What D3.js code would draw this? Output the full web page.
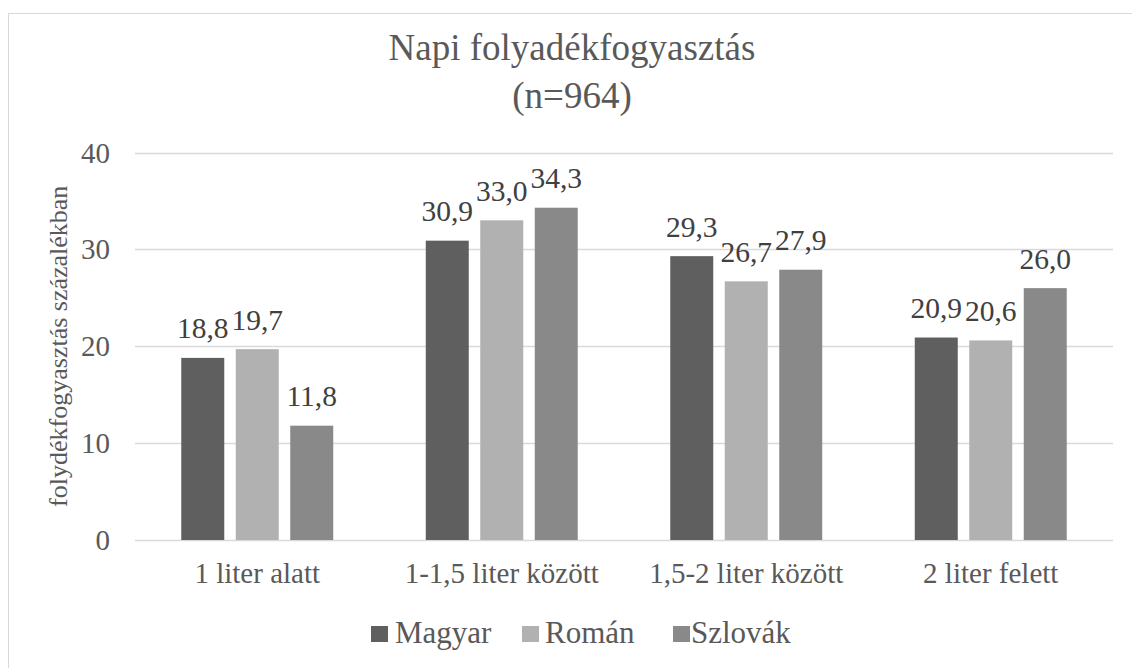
<!DOCTYPE html>
<html>
<head>
<meta charset="utf-8">
<script src="https://cdn.jsdelivr.net/npm/d3@7"></script>
<style>
  body { margin: 0; background: #fff; }
</style>
</head>
<body>
<div id="chart"></div>
<script>
const categories = ["1 liter alatt", "1-1,5 liter között", "1,5-2 liter között", "2 liter felett"];
const seriesNames = ["Magyar", "Román", "Szlovák"];
const magyar = [18.8, 30.9, 29.3, 20.9];
const roman = [19.7, 33.0, 26.7, 20.6];
const szlovak = [11.8, 34.3, 27.9, 26.0];
const yTicks = [0, 10, 20, 30, 40];
const colors = ["#5f5f5f", "#b1b1b1", "#898989"];

const width = 1132, height = 668;
const margin = {top: 152.5, right: 19, bottom: 128, left: 135};
const serif = "'Liberation Serif', 'Times New Roman', Tinos, 'DejaVu Serif', serif";

const svg = d3.select("#chart")
  .append("svg")
  .attr("width", width)
  .attr("height", height)
  .attr("font-family", serif)
  .style("font-family", serif);

// chart border (cropped at right and bottom in the original)
svg.append("rect")
  .attr("x", 8.5).attr("y", 13.5)
  .attr("width", 1140).attr("height", 700)
  .attr("fill", "none")
  .attr("stroke", "#d9d9d9");

const x0 = d3.scaleBand()
  .domain(categories)
  .range([margin.left, width - margin.right])
  .padding(0);

const x1 = d3.scaleBand()
  .domain(seriesNames)
  .range([0, x0.bandwidth()])
  .paddingInner(0.211)
  .paddingOuter(0.849);

const y = d3.scaleLinear()
  .domain([0, 40])
  .range([height - margin.bottom, margin.top]);

// gridlines
svg.append("g")
  .selectAll("line")
  .data(yTicks)
  .join("line")
  .attr("x1", margin.left)
  .attr("x2", width - margin.right)
  .attr("y1", d => Math.round(y(d)) + 0.5)
  .attr("y2", d => Math.round(y(d)) + 0.5)
  .attr("stroke", "#d9d9d9")
  .attr("stroke-width", 1.3);

// y tick labels
svg.append("g")
  .selectAll("text")
  .data(yTicks)
  .join("text")
  .attr("x", 110)
  .attr("y", d => y(d) + 10)
  .attr("text-anchor", "end")
  .attr("fill", "#595959")
  .style("font-size", "29px")
  .text(d => d);

const series = [magyar, roman, szlovak];
const rows = [];
categories.forEach((c, i) => {
  seriesNames.forEach((s, j) => rows.push({cat: c, name: s, value: series[j][i], k: j}));
});

svg.append("g")
  .selectAll("rect")
  .data(rows)
  .join("rect")
  .attr("x", d => x0(d.cat) + x1(d.name))
  .attr("y", d => y(d.value))
  .attr("width", x1.bandwidth())
  .attr("height", d => y(0) - y(d.value))
  .attr("fill", d => colors[d.k]);

// data labels
svg.append("g")
  .selectAll("text")
  .data(rows)
  .join("text")
  .attr("x", d => x0(d.cat) + x1(d.name) + x1.bandwidth() / 2)
  .attr("y", d => y(d.value) - 19.5)
  .attr("text-anchor", "middle")
  .attr("fill", "#404040")
  .style("font-size", "29.5px")
  .text(d => d.value.toFixed(1).replace(".", ","));

// x labels
svg.append("g")
  .selectAll("text")
  .data(categories)
  .join("text")
  .attr("x", d => x0(d) + x0.bandwidth() / 2)
  .attr("y", 583)
  .attr("text-anchor", "middle")
  .attr("fill", "#595959")
  .style("font-size", "29px")
  .text(d => d);

// title
const title = svg.append("text")
  .attr("x", 572)
  .attr("text-anchor", "middle")
  .attr("fill", "#595959")
  .style("font-size", "37px");
title.append("tspan").attr("x", 572).attr("y", 60).text("Napi folyadékfogyasztás");
title.append("tspan").attr("x", 572).attr("y", 108).text("(n=964)");

// y axis title
svg.append("text")
  .attr("transform", `translate(67,${(y(0) + y(40)) / 2}) rotate(-90)`)
  .attr("text-anchor", "middle")
  .attr("fill", "#595959")
  .style("font-size", "26px")
  .text("folydékfogyasztás százalékban");

// legend
const legendX = [371, 522, 673];
const legend = svg.append("g")
  .selectAll("g")
  .data(seriesNames)
  .join("g")
  .attr("transform", (d, i) => `translate(${legendX[i]},626)`);
legend.append("rect")
  .attr("width", 17).attr("height", 16)
  .attr("fill", (d, i) => colors[i]);
legend.append("text")
  .attr("x", (d, i) => i === 0 ? 24 : (i === 1 ? 23 : 18))
  .attr("y", 17)
  .attr("fill", "#595959")
  .style("font-size", "31px")
  .text(d => d);
</script>
</body>
</html>
